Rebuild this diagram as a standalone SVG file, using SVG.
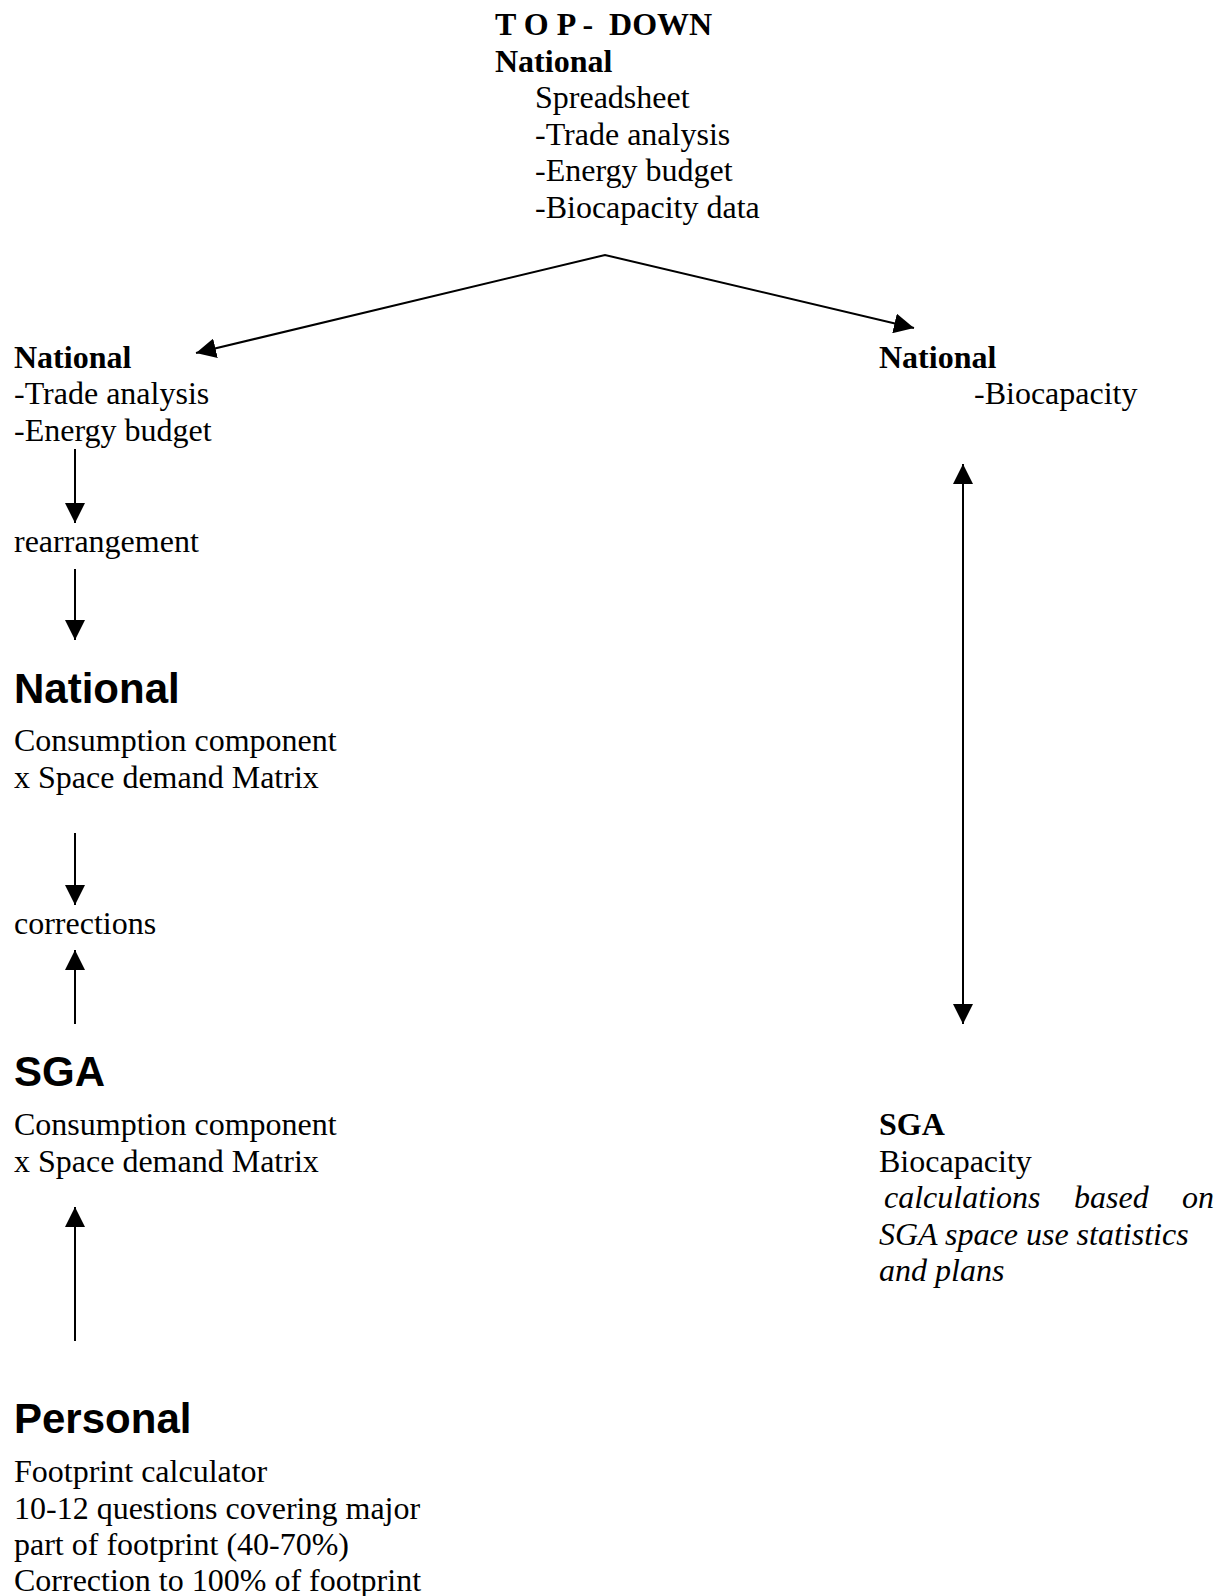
<svg xmlns="http://www.w3.org/2000/svg" width="1229" height="1596" viewBox="0 0 1229 1596">
<defs>
<marker id="ah" viewBox="0 0 20 20" refX="20" refY="10" markerWidth="20" markerHeight="20" markerUnits="userSpaceOnUse" orient="auto-start-reverse">
<path d="M0,0 L20,10 L0,20 z" fill="#000"/>
</marker>
<style>
.t{font-family:"Liberation Serif","Times New Roman",serif;font-size:32px;fill:#000}
.b{font-weight:bold}
.i{font-style:italic}
.h{font-family:"Liberation Sans",Arial,sans-serif;font-size:42px;font-weight:bold;fill:#000}
.c{stroke:#000;stroke-width:2;fill:none}
</style>
</defs>
<rect width="1229" height="1596" fill="#fff"/>
<g id="top">
<text class="t b" x="495" y="35" xml:space="preserve">T O P -  DOWN</text>
<text class="t b" x="495" y="72">National</text>
<text class="t" x="535" y="108">Spreadsheet</text>
<text class="t" x="535" y="145">-Trade analysis</text>
<text class="t" x="535" y="181">-Energy budget</text>
<text class="t" x="535" y="218">-Biocapacity data</text>
</g>
<g id="national-left">
<text class="t b" x="14" y="368">National</text>
<text class="t" x="14" y="404">-Trade analysis</text>
<text class="t" x="14" y="441">-Energy budget</text>
</g>
<g id="rearrangement">
<text class="t" x="14" y="552">rearrangement</text>
</g>
<g id="national-consumption">
<text class="h" x="14" y="703">National</text>
<text class="t" x="14" y="751">Consumption component</text>
<text class="t" x="14" y="788">x Space demand Matrix</text>
</g>
<g id="corrections">
<text class="t" x="14" y="934">corrections</text>
</g>
<g id="sga-consumption">
<text class="h" x="14" y="1086">SGA</text>
<text class="t" x="14" y="1135">Consumption component</text>
<text class="t" x="14" y="1172">x Space demand Matrix</text>
</g>
<g id="personal">
<text class="h" x="14" y="1433">Personal</text>
<text class="t" x="14" y="1482">Footprint calculator</text>
<text class="t" x="14" y="1519">10-12 questions covering major</text>
<text class="t" x="14" y="1555">part of footprint (40-70%)</text>
<text class="t" x="14" y="1591">Correction to 100% of footprint</text>
</g>
<g id="national-right">
<text class="t b" x="879" y="368">National</text>
<text class="t" x="974" y="404">-Biocapacity</text>
</g>
<g id="sga-biocapacity">
<text class="t b" x="879" y="1135">SGA</text>
<text class="t" x="879" y="1172">Biocapacity</text>
<text class="t i" x="884" y="1208">calculations</text>
<text class="t i" x="1074" y="1208">based</text>
<text class="t i" x="1182" y="1208">on</text>
<text class="t i" x="879" y="1245">SGA space use statistics</text>
<text class="t i" x="879" y="1281">and plans</text>
</g>
<g id="connectors">
<polyline class="c" points="196,353 605,255 914,328" marker-start="url(#ah)" marker-end="url(#ah)"/>
<line class="c" x1="75" y1="449" x2="75" y2="523" marker-end="url(#ah)"/>
<line class="c" x1="75" y1="569" x2="75" y2="640" marker-end="url(#ah)"/>
<line class="c" x1="75" y1="833" x2="75" y2="905" marker-end="url(#ah)"/>
<line class="c" x1="75" y1="1024" x2="75" y2="950" marker-end="url(#ah)"/>
<line class="c" x1="75" y1="1341" x2="75" y2="1207" marker-end="url(#ah)"/>
<line class="c" x1="963" y1="464" x2="963" y2="1024" marker-start="url(#ah)" marker-end="url(#ah)"/>
</g>
</svg>
